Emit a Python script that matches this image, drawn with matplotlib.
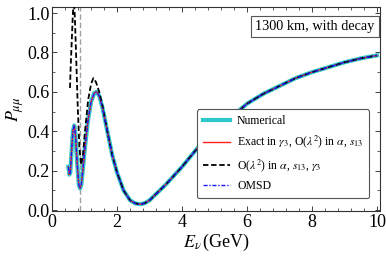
import numpy as np
import matplotlib
matplotlib.use("Agg")
from matplotlib import pyplot as plt
from matplotlib.ticker import MultipleLocator

plt.rcParams['font.family'] = ['Liberation Serif', 'DejaVu Serif']
plt.rcParams['mathtext.fontset'] = 'stix'

# energies (GeV) and survival probability
E = [0.50, 0.53, 0.56, 0.60, 0.64, 0.68, 0.72, 0.77, 0.82, 0.86, 0.90, 0.95,
     1.00, 1.10, 1.20, 1.30, 1.37, 1.45, 1.55, 1.70, 1.85, 2.00, 2.20, 2.40,
     2.55, 2.70, 2.85, 3.00, 3.50, 4.00, 4.50, 5.00, 5.50, 6.00, 6.50, 7.00,
     7.50, 8.00, 8.50, 9.00, 9.50, 10.0]
P_num = [0.22, 0.18, 0.19, 0.30, 0.40, 0.43, 0.38, 0.24, 0.13, 0.11, 0.13, 0.21,
         0.30, 0.45, 0.55, 0.595, 0.60, 0.58, 0.52, 0.40, 0.28, 0.19, 0.10, 0.05,
         0.035, 0.03, 0.035, 0.05, 0.13, 0.22, 0.32, 0.40, 0.47, 0.54, 0.59, 0.63,
         0.67, 0.70, 0.725, 0.75, 0.77, 0.785]

# O(lambda^2) curve differs at low energy
E_dash = [0.55, 0.57, 0.60, 0.63, 0.65, 0.67, 0.70, 0.74, 0.79, 0.84, 0.89, 0.95,
          1.00, 1.11, 1.20, 1.27, 1.35, 1.45, 1.55, 1.70, 1.85, 2.00, 2.20, 2.40,
          2.55, 2.70, 2.85, 3.00, 3.50, 4.00, 4.50, 5.00, 5.50, 6.00, 6.50, 7.00,
          7.50, 8.00, 8.50, 9.00, 9.50, 10.0]
P_dash = [0.62, 0.72, 0.84, 0.96, 1.03, 1.06, 0.98, 0.78, 0.52, 0.32, 0.23, 0.28,
          0.38, 0.56, 0.64, 0.67, 0.65, 0.60, 0.53, 0.40, 0.28, 0.19, 0.10, 0.05,
          0.035, 0.03, 0.035, 0.05, 0.13, 0.22, 0.32, 0.40, 0.47, 0.54, 0.59, 0.63,
          0.67, 0.70, 0.725, 0.75, 0.77, 0.785]

E_res = 0.86

fig = plt.figure(figsize=(3.86, 2.6), dpi=100)
ax = fig.add_axes([0.135, 0.188, 0.85, 0.786])

ax.axvline(E_res, color='#a0a0a0', ls='--', lw=1.0, dashes=(4, 2), zorder=1)
ax.plot(E, P_num, color='#30c8c8', lw=3.0, label='Numerical', zorder=2)
ax.plot(E, P_num, color='#ff2020', lw=1.0,
        label=r'Exact in $\gamma_3$, O($\lambda^2$) in $\alpha$, $s_{13}$', zorder=3)
ax.plot(E_dash, P_dash, color='black', lw=1.3, ls='--', dashes=(3, 1.5),
        label=r'O($\lambda^2$) in $\alpha$, $s_{13}$, $\gamma_3$', zorder=4)
ax.plot(E, P_num, color='#1a1aff', lw=1.0, ls='-.', dashes=(3, 1.2, 1, 1.2),
        label='OMSD', zorder=5)

ax.set_xlim(0, 10.1)
ax.set_ylim(-0.005, 1.032)
ax.xaxis.set_major_locator(MultipleLocator(2))
ax.xaxis.set_minor_locator(MultipleLocator(0.4))
ax.yaxis.set_major_locator(MultipleLocator(0.2))
ax.yaxis.set_minor_locator(MultipleLocator(0.1))
ax.yaxis.set_major_formatter(matplotlib.ticker.FormatStrFormatter('%.1f'))
ax.tick_params(which='both', direction='in', top=True, right=True, labelsize=13,
               color='#444444', pad=2)
ax.tick_params(which='major', length=3.5, width=0.7)
ax.tick_params(which='minor', length=2, width=0.6)
for s in ax.spines.values():
    s.set_linewidth(0.8)
    s.set_color('#333333')

ax.set_xlabel(r'$E_\nu\,$(GeV)', fontsize=13, labelpad=1)
ax.set_ylabel(r'$P_{\mu\mu}$', fontsize=13, labelpad=1)

ax.text(0.982, 0.904, '1300 km, with decay', transform=ax.transAxes,
        ha='right', va='center', fontsize=10.3,
        bbox=dict(boxstyle='square,pad=0.3', fc='white', ec='#555555', lw=0.8))

leg = ax.legend(loc='lower right', fontsize=8.5, frameon=True, fancybox=True,
                edgecolor='#555555', handlelength=2.3, labelspacing=0.55,
                borderpad=0.5, handletextpad=0.6, bbox_to_anchor=(0.985, 0.035))
leg.get_frame().set_linewidth(0.8)
leg.get_frame().set_alpha(1)

fig.savefig('out.png', dpi=100)
